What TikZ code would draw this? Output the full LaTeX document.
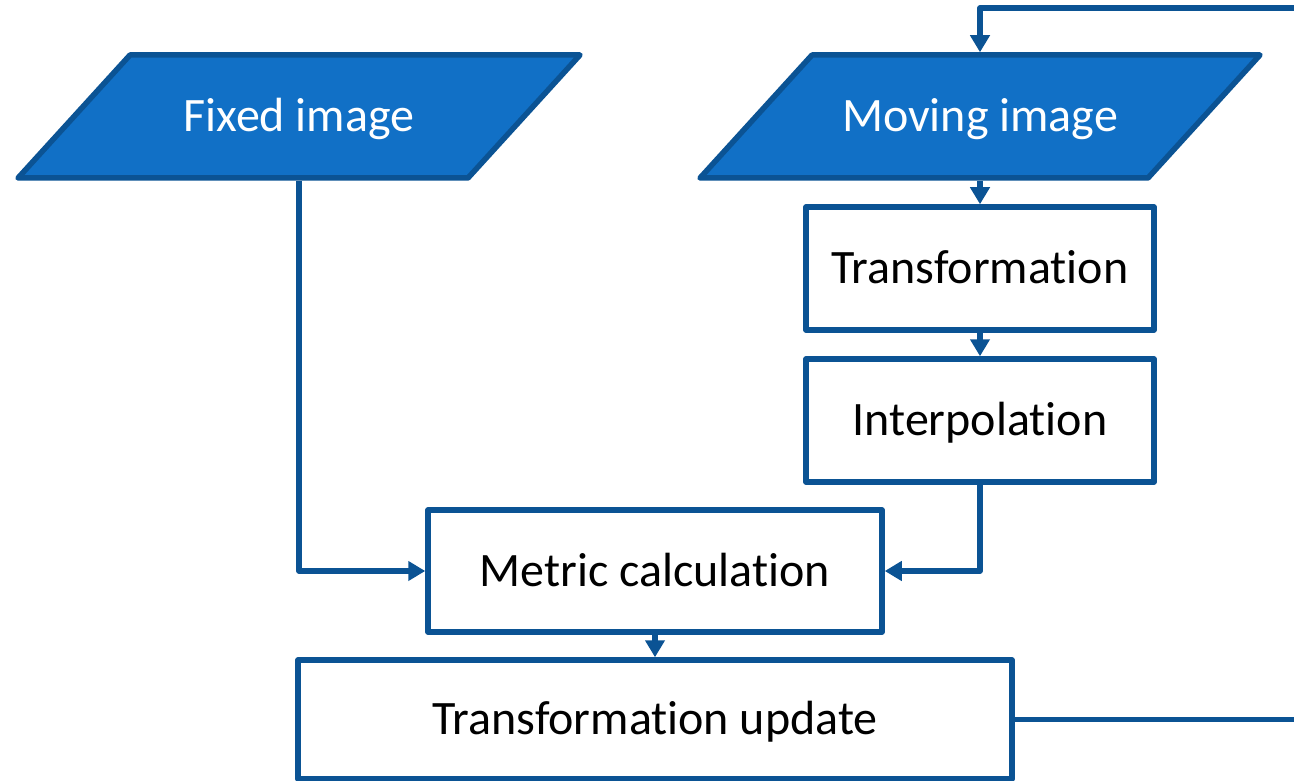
\documentclass[tikz,border=0pt]{standalone}
\usepackage{fontspec}
\setmainfont{Carlito}[Ligatures=CommonOff]
\usetikzlibrary{arrows.meta}
\definecolor{boxline}{RGB}{11,83,148}
\definecolor{boxfill}{RGB}{17,112,198}

\begin{document}
\begin{tikzpicture}[x=1pt,y=-1pt]
        \tikzset{line/.style={line width=5.5pt, draw=boxline, line join=round}};
        \tikzset{arr/.style={line, -{Triangle[length=17pt,width=19pt]}}};
        \tikzset{box/.style={line, fill=white, font=\fontsize{48}{56}\selectfont, inner sep=0pt,
            text height=30pt, text depth=0pt, minimum height=123pt}};
        \tikzset{io/.style={box, draw=none, fill=none, text=white, minimum width=450pt}};
        \useasboundingbox (0,0) rectangle (1294,781);

        % input images
        \fill[line, fill=boxfill] (18,178) -- (130,55) -- (580,55) -- (468,178) -- cycle;
        \node[io] (fixed) at (299,116.5) {Fixed image};
        \fill[line, fill=boxfill] (700,178) -- (812,55) -- (1260,55) -- (1148,178) -- cycle;
        \node[io] (moving) at (980,116.5) {Moving image};

        % steps
        \node[box, minimum width=348pt] (trans) at (980,268.5) {Transformation};
        \node[box, minimum width=348pt] (interp) at (980,420.5) {Interpolation};
        \node[box, minimum width=454pt, minimum height=122pt] (metric) at (655,571) {Metric calculation};
        \node[box, minimum width=714pt, minimum height=119pt] (update) at (655,719.5) {Transformation update};

        \draw[arr] (moving.south) -- (trans.north);
        \draw[arr] (trans.south) -- (interp.north);
        \draw[arr] (fixed.south) |- (metric.west);
        \draw[arr] (interp.south) |- (metric.east);
        \draw[arr] (metric.south) -- (update.north);

        % loop back
        \coordinate (loop) at (1320,8);
        \draw[arr] (update.east) -| (loop) -| (moving.north);
    \end{tikzpicture}
\end{document}
